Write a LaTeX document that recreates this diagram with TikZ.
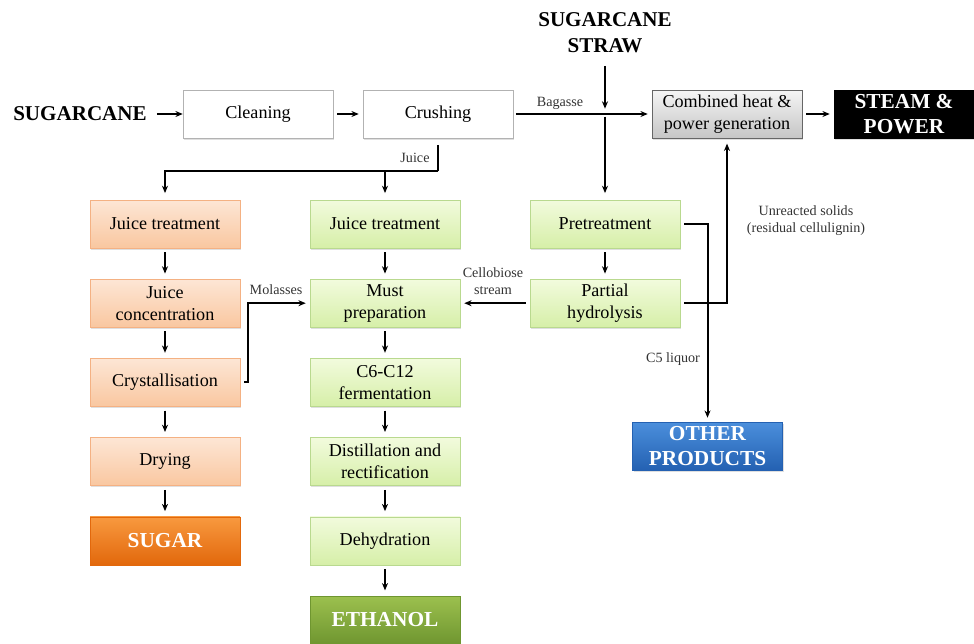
\documentclass[tikz,border=0pt]{standalone}
\usepackage{fontspec}
\setmainfont{Liberation Serif}
\usetikzlibrary{positioning}
\usetikzlibrary{arrows.meta}
\usetikzlibrary{shadows}

\definecolor{peachtop}{HTML}{FDE6D5}
\definecolor{peachbot}{HTML}{F9C7A0}
\definecolor{peachline}{HTML}{F4B183}
\definecolor{limetop}{HTML}{F2FBDD}
\definecolor{limebot}{HTML}{D6EFA8}
\definecolor{limeline}{HTML}{B9D98F}
\definecolor{sugartop}{HTML}{F8993F}
\definecolor{sugarbot}{HTML}{E2680C}
\definecolor{ethtop}{HTML}{9CC04E}
\definecolor{ethbot}{HTML}{6F9630}
\definecolor{othtop}{HTML}{4B8FDC}
\definecolor{othbot}{HTML}{2461B2}

\begin{document}
\begin{tikzpicture}[
        x = 0.75pt, y = -0.75pt,
        box/.style = {
                draw = #1,
                minimum width = 112.5pt,
                minimum height = 36pt,
                inner sep = 2pt,
                align = center,
                font = \fontsize{13.6}{16.5}\selectfont,
                drop shadow = {shadow xshift=1pt, shadow yshift=-1.2pt, opacity=0.25}
            },
            box/.default = gray!60,
        sugarbox/.style = {box=peachline, top color=peachtop, bottom color=peachbot},
        ethbox/.style = {box=limeline, top color=limetop, bottom color=limebot},
        product/.style = {box=#1, font=\fontsize{16}{18.8}\selectfont\bfseries, text=white},
        title/.style = {font=\fontsize{15.8}{19.5}\selectfont\bfseries, align=center},
        arr/.style = {-{Stealth[length=5.5pt, width=4.5pt]}, line width = 1.5pt},
        lnk/.style = {line width = 1.5pt},
        tag/.style = {font=\fontsize{10.6}{12.8}\selectfont, align=center, text=black!80},
        node distance = {23pt}
    ]
    \useasboundingbox (0,0) rectangle (974,643);

    % feedstocks and front end
    \node[title] (cane) at (80,114) {SUGARCANE};
    \node[title] (straw) at (605,33) {SUGARCANE\\STRAW};
    \node[box, fill=white] (clean) at (258,114) {Cleaning};
    \node[box, fill=white] (crush) at (438,114) {Crushing};
    \node[box=gray!80!black, top color=gray!8, bottom color=gray!45] (chp) at (727,114) {Combined heat \&\\power generation};
    \node[product=black, fill=black, minimum width=105pt] (steam) at (904,114) {STEAM \&\\POWER};

    % sugar line
    \node[sugarbox] (sjt) at (165,224) {Juice treatment};
    \node[sugarbox, below=of sjt] (conc) {Juice\\concentration};
    \node[sugarbox, below=of conc] (cryst) {Crystallisation};
    \node[sugarbox, below=of cryst] (dry) {Drying};
    \node[product=sugarbot, top color=sugartop, bottom color=sugarbot, below=of dry] (sugar) {SUGAR};

    % ethanol line
    \node[ethbox] (ejt) at (385,224) {Juice treatment};
    \node[ethbox, below=of ejt] (must) {Must\\preparation};
    \node[ethbox, below=of must] (ferm) {C6-C12\\fermentation};
    \node[ethbox, below=of ferm] (dist) {Distillation and\\rectification};
    \node[ethbox, below=of dist] (dehyd) {Dehydration};
    \node[product=ethbot, top color=ethtop, bottom color=ethbot, below=of dehyd] (ethanol) {ETHANOL};

    % straw line
    \node[ethbox] (pre) at (605,224) {Pretreatment};
    \node[ethbox, below=of pre] (hyd) {Partial\\hydrolysis};
    \node[product=othbot, top color=othtop, bottom color=othbot] (other) at (707.5,446) {OTHER\\PRODUCTS};

    \coordinate (jn) at (605,114);
    \coordinate (split) at (438,171);

    \draw[arr, shorten <=4pt] (cane) -- (clean);
    \draw[arr, shorten <=3pt, shorten >=3pt] (clean) -- (crush);
    \draw[arr, shorten <=3pt, shorten >=3pt] (chp) -- (steam);
    \draw[arr, shorten <=2pt, shorten >=3pt] (crush) -- (chp);
    \draw[arr, shorten <=6pt, shorten >=4pt] (straw) -- (jn);
    \draw[arr, shorten <=2pt, shorten >=5pt] (jn) -- (pre);
    \draw[lnk, shorten <=5pt] (crush.south) -- (split);
    \draw[arr, shorten >=5pt] (split) -| (sjt.north);
    \draw[arr, shorten >=5pt] (split) -| (ejt.north);

    \foreach \a/\b in {sjt/conc, conc/cryst, cryst/dry, dry/sugar,
                       ejt/must, must/ferm, ferm/dist, dist/dehyd, dehyd/ethanol, pre/hyd}
        \draw[arr, shorten <=3pt, shorten >=4pt] (\a) -- (\b);

    \draw[arr, shorten <=3pt, shorten >=3pt] (cryst.east) -- ++(8,0) |- (must.west);
    \draw[arr, shorten <=3pt, shorten >=3pt] (hyd) -- (must);
    \draw[arr, shorten <=3pt, shorten >=3pt] (pre.east) -| (other.north);
    \draw[arr, shorten <=3pt, shorten >=4pt] (hyd.east) -| (chp.south);

    % stream labels
    \node[tag] (lbag) at (560,103) {Bagasse};
    \node[tag] (ljuice) at (415,158) {Juice};
    \node[tag] (lmol) at (276,290) {Molasses};
    \node[tag] (lcell) at (493,281) {Cellobiose\\stream};
    \node[tag] (lc5) at (673,359) {C5 liquor};
    \node[tag] (lsol) at (806,221) {Unreacted solids\\(residual cellulignin)};
\end{tikzpicture}
\end{document}
